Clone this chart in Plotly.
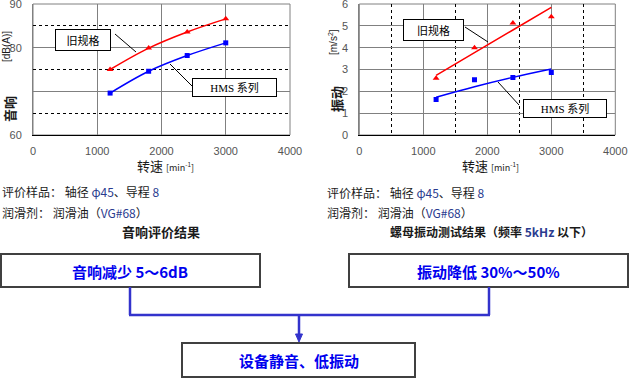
import plotly.graph_objects as go

W, H = 631, 379

# ---------------- data ----------------
speed = [1200, 1800, 2400, 3000]
noise_old = [75.0, 79.9, 83.6, 86.6]
noise_hms = [69.6, 74.6, 78.2, 81.1]
vib_old = [2.6, 4.0, 5.13, 5.42]
vib_hms = [1.63, 2.53, 2.63, 2.86]
vib_old_trend = [2.73, 3.77, 4.81, 5.85]
vib_hms_trend = [1.73, 2.21, 2.64, 3.02]
x_ticks = [0, 1000, 2000, 3000, 4000]
noise_ticks = [60, 70, 80, 90]
noise_tick_text = ["60", "", "80", "90"]  # "70" is hidden behind the axis title in the reference
vib_ticks = [0, 1, 2, 3, 4, 5, 6]


def px(x):
    return x / W


def py(y):
    return 1 - y / H


RED = "#ff0000"
BLUE = "#0000ff"
NUM = "#2a3b8f"
TXT = "#1a1a1a"
CJK = "Noto Sans CJK SC"
SERIF_CJK = "Liberation Serif, Noto Sans CJK SC"

fig = go.Figure()

# left chart: noise
fig.add_trace(go.Scatter(x=speed, y=noise_old, mode="lines+markers", line=dict(color=RED, width=1.5, shape="spline"),
                         marker=dict(symbol="triangle-up", size=6, color=RED), xaxis="x", yaxis="y", showlegend=False))
fig.add_trace(go.Scatter(x=speed, y=noise_hms, mode="lines+markers", line=dict(color=BLUE, width=1.5, shape="spline"),
                         marker=dict(symbol="square", size=5, color=BLUE), xaxis="x", yaxis="y", showlegend=False))

# right chart: vibration
fig.add_trace(go.Scatter(x=speed, y=vib_old_trend, mode="lines", line=dict(color=RED, width=1.5, shape="spline"),
                         xaxis="x2", yaxis="y2", showlegend=False))
fig.add_trace(go.Scatter(x=speed, y=vib_hms_trend, mode="lines", line=dict(color=BLUE, width=1.5, shape="spline"),
                         xaxis="x2", yaxis="y2", showlegend=False))
fig.add_trace(go.Scatter(x=speed, y=vib_old, mode="markers", marker=dict(symbol="triangle-up", size=6, color=RED),
                         xaxis="x2", yaxis="y2", showlegend=False))
fig.add_trace(go.Scatter(x=speed, y=vib_hms, mode="markers", marker=dict(symbol="square", size=5, color=BLUE),
                         xaxis="x2", yaxis="y2", showlegend=False))

tickfont = dict(family="Liberation Sans, Arial", size=11, color="#555555")
common_x = dict(range=[0, 4000], tickvals=x_ticks, showgrid=True, gridcolor="#808080", gridwidth=1,
                showline=True, linecolor="#000000", linewidth=1, zeroline=False, ticks="", tickfont=tickfont,
                fixedrange=True, automargin=False, ticklabeloverflow="allow", ticklabelstandoff=6)
common_y = dict(showgrid=True, gridcolor="#808080", gridwidth=1, showline=True, linecolor="#808080",
                linewidth=1, zeroline=False, ticks="", tickfont=tickfont, fixedrange=True, automargin=False,
                ticklabeloverflow="allow", ticklabelstandoff=8)

ydom = [py(135), py(4)]
fig.update_layout(
    width=W, height=H, margin=dict(l=0, r=0, t=0, b=0, autoexpand=False),
    paper_bgcolor="white", plot_bgcolor="white",
    xaxis=dict(domain=[px(33), px(290)], anchor="y", **common_x),
    yaxis=dict(domain=ydom, anchor="x", range=[60, 90], tickvals=noise_ticks, ticktext=noise_tick_text,
               minor=dict(dtick=5, tick0=60, showgrid=True, gridcolor="#000000", griddash="dot", gridwidth=1),
               **common_y),
    xaxis2=dict(domain=[px(359.3), px(615.3)], anchor="y2",
                minor=dict(dtick=500, tick0=0, showgrid=True, gridcolor="#000000", griddash="dot", gridwidth=1),
                **common_x),
    yaxis2=dict(domain=ydom, anchor="x2", range=[0, 6], tickvals=vib_ticks, **common_y),
)

shapes = []
annotations = []

# border of plot areas (gray)
for xr, yr in (("x domain", "y domain"), ("x2 domain", "y2 domain")):
    shapes.append(dict(type="rect", xref=xr, yref=yr, x0=0, x1=1, y0=0, y1=1,
                       line=dict(color="#808080", width=1), layer="below"))


def label_box(cx, cy, w, h, text):
    annotations.append(dict(xref="paper", yref="paper", x=px(cx), y=py(cy), xanchor="center", yanchor="middle",
                            text=text, showarrow=False, width=w - 2, height=h - 2, borderpad=0, borderwidth=1,
                            bordercolor="#000000", bgcolor="white",
                            font=dict(family=SERIF_CJK, size=11, color="#000000")))


def seg(x0, y0, x1, y1, color="#000000", width=1):
    shapes.append(dict(type="line", xref="paper", yref="paper", x0=px(x0), y0=py(y0), x1=px(x1), y1=py(y1),
                       line=dict(color=color, width=width)))


# leader lines + labels left
seg(115, 34, 136, 52)
seg(170, 64, 192, 86)
label_box(83, 40, 56, 22, "旧规格")
label_box(234.5, 87.5, 85, 19, "HMS 系列")
# right
seg(465, 27, 488, 42)
seg(498, 82, 519, 105)
label_box(433.5, 30, 61, 22, "旧规格")
label_box(565, 108.5, 84, 19, "HMS 系列")

# axis titles
def text(x, y, s, size=12, color=TXT, anchor="center", angle=0, family=CJK):
    annotations.append(dict(xref="paper", yref="paper", x=px(x), y=py(y), xanchor=anchor, yanchor="middle",
                            text=s, showarrow=False, textangle=angle,
                            font=dict(family=family, size=size, color=color)))


text(10, 109, "<b>音响</b>", size=13, angle=-90)
text(7, 47, "[dB(A)]", size=10, angle=-90, family="Liberation Sans, Arial")
text(336, 99, "<b>振动</b>", size=13, angle=-90)
text(333, 42, "[m/s<sup>2</sup>]", size=10, angle=-90, family="Liberation Sans, Arial")

xt = "转速 <span style='font-size:9px'>[min<sup>-1</sup>]</span>"
text(165, 166, xt, size=13)
text(490, 166, xt, size=13)

# notes
n1 = "评价样品：&nbsp;轴径 <span style='color:%s'>φ45</span>、导程 <span style='color:%s'>8</span>" % (NUM, NUM)
n2 = "润滑剂：&nbsp;润滑油（<span style='color:%s'>VG#68</span>）" % NUM
text(0, 191, n1, size=12, anchor="left")
text(0, 212, n2, size=12, anchor="left")
text(161, 231, "<b>音响评价结果</b>", size=13)
text(325, 192, n1, size=12, anchor="left")
text(325, 212, n2, size=12, anchor="left")
text(491, 231, "<b>螺母振动测试结果（频率 <span style='color:%s'>5kHz</span> 以下）</b>" % NUM, size=12)

# bottom flow boxes
BOXC = "#404040"
for (x0, y0, x1, y1) in ((1, 254, 260, 287), (349, 254, 628, 287), (182, 343, 415, 377)):
    shapes.append(dict(type="rect", xref="paper", yref="paper", x0=px(x0), y0=py(y0), x1=px(x1), y1=py(y1),
                       line=dict(color=BOXC, width=2), fillcolor="white"))

CONN = "#3333cc"
seg(130, 287, 130, 315, CONN, 2.5)
seg(489, 287, 489, 315, CONN, 2.5)
seg(129, 315, 490, 315, CONN, 2.5)
seg(299, 315, 299, 336, CONN, 2.5)
shapes.append(dict(type="path", xref="paper", yref="paper",
                   path="M %f,%f L %f,%f L %f,%f Z" % (px(295.5), py(334), px(302.5), py(334), px(299), py(342)),
                   fillcolor=CONN, line=dict(color=CONN, width=1)))

BT = "#0000ee"
text(130, 271, "<b>音响减少 5～6dB</b>", size=15, color=BT)
text(488, 271, "<b>振动降低 30%～50%</b>", size=15, color=BT)
text(299, 360, "<b>设备静音、低振动</b>", size=15, color=BT)

fig.update_layout(shapes=shapes, annotations=annotations)
fig.write_html("out.html", config={"displayModeBar": False},
               post_script="document.body.style.margin='0px';document.body.style.overflow='hidden';")
